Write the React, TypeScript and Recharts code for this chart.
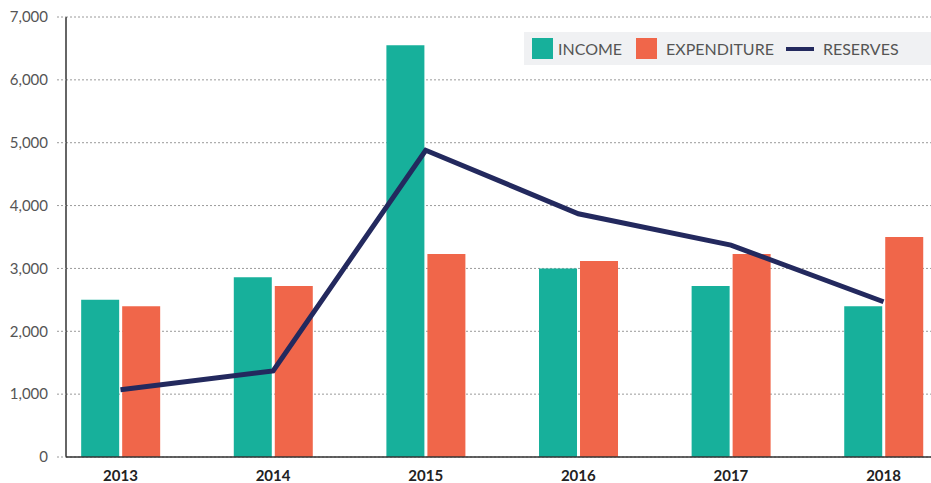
import React from "react";
import { ComposedChart, Bar, Line, XAxis, YAxis, CartesianGrid } from "recharts";

const years = ["2013", "2014", "2015", "2016", "2017", "2018"];
const income = [2500, 2860, 6550, 3000, 2720, 2400];
const expenditure = [2400, 2720, 3230, 3120, 3230, 3500];
const reserves = [1070, 1370, 4880, 3870, 3370, 2470];
const yTicks = [0, 1000, 2000, 3000, 4000, 5000, 6000, 7000];

const data = years.map((y, i) => ({
  x: i,
  year: y,
  income: income[i],
  expenditure: expenditure[i],
  reserves: reserves[i],
}));

const TEAL = "#17b09b";
const ORANGE = "#f0664a";
const NAVY = "#23295e";
const FONT = "Lato, 'Open Sans', sans-serif";

const LegendBox = () => (
  <div
    style={{
      position: "absolute",
      left: 524,
      top: 32,
      width: 407,
      height: 33,
      background: "#f0f1f3",
      display: "flex",
      alignItems: "center",
      fontFamily: FONT,
      fontSize: 16,
      color: "#555",
      whiteSpace: "nowrap",
    }}
  >
    <span style={{ width: 21, height: 21, background: TEAL, marginLeft: 8, flex: "none" }} />
    <span style={{ marginLeft: 5 }}>INCOME</span>
    <span style={{ width: 21, height: 21, background: ORANGE, marginLeft: 14, flex: "none" }} />
    <span style={{ marginLeft: 9 }}>EXPENDITURE</span>
    <span style={{ width: 28, height: 4, background: NAVY, marginLeft: 12, flex: "none" }} />
    <span style={{ marginLeft: 9 }}>RESERVES</span>
  </div>
);

export default function App() {
  return (
    <div style={{ position: "absolute", left: 0, top: 0, width: 931, height: 483 }}>
      <ComposedChart
        width={931}
        height={483}
        data={data}
        margin={{ top: 17, right: 0, left: 0, bottom: 0 }}
        barGap={3}
      >
        <CartesianGrid horizontal vertical={false} stroke="#9a9a9a" strokeDasharray="2 2" />
        <XAxis
          dataKey="x"
          type="number"
          domain={[-0.357, 5.311]}
          allowDataOverflow
          ticks={[0, 1, 2, 3, 4, 5]}
          tickFormatter={(v) => years[v]}
          height={26}
          tickSize={0}
          tickMargin={13}
          axisLine={{ stroke: "#333", strokeWidth: 1.5 }}
          tick={{ fill: "#222", fontSize: 15, fontWeight: 700, fontFamily: FONT }}
        />
        <YAxis
          width={66}
          domain={[0, 7000]}
          ticks={yTicks}
          interval={0}
          tickFormatter={(v) => v.toLocaleString("en-US")}
          tickSize={9}
          tickMargin={9}
          tickLine={{ stroke: "#9a9a9a", strokeDasharray: "2 2" }}
          axisLine={{ stroke: "#333", strokeWidth: 1.5 }}
          tick={{ fill: "#555", fontSize: 15, fontFamily: FONT }}
        />
        <Bar dataKey="income" fill={TEAL} barSize={38} isAnimationActive={false} />
        <Bar dataKey="expenditure" fill={ORANGE} barSize={38} isAnimationActive={false} />
        <Line
          dataKey="reserves"
          stroke={NAVY}
          strokeWidth={5}
          dot={false}
          activeDot={false}
          isAnimationActive={false}
        />
      </ComposedChart>
      <LegendBox />
    </div>
  );
}
